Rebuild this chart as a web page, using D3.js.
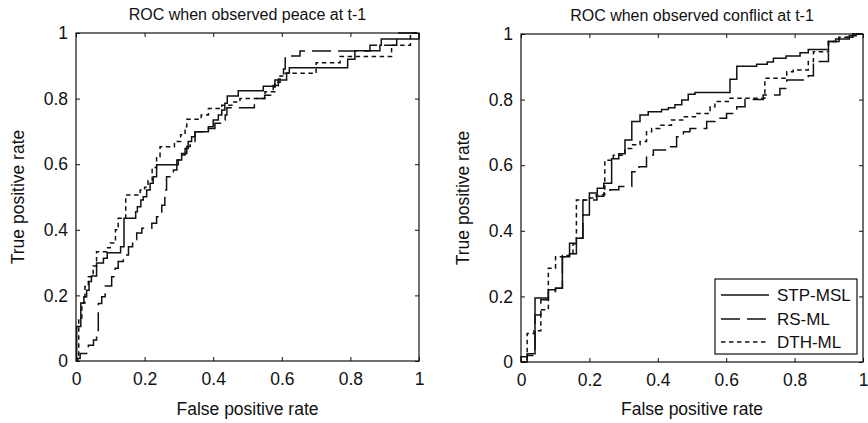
<!DOCTYPE html>
<html>
<head>
<meta charset="utf-8">
<script src="https://cdn.jsdelivr.net/npm/d3@7/dist/d3.min.js"></script>
<style>
  html, body { margin: 0; padding: 0; background: #fff; }
  svg text { font-family: "Liberation Sans", Arial, Helvetica, sans-serif; fill: #111; }
</style>
</head>
<body>
<svg id="chart" width="868" height="423"></svg>
<script>
// ---------- data ----------
const seriesNames = ["STP-MSL", "RS-ML", "DTH-ML"];
const panelTitles = ["ROC when observed peace at t-1", "ROC when observed conflict at t-1"];
const tickValues = [0, 0.2, 0.4, 0.6, 0.8, 1];
const tickLabels = ["0", "0.2", "0.4", "0.6", "0.8", "1"];
const xLabel = "False positive rate";
const yLabel = "True positive rate";

// [false positive rate, true positive rate] step points
const peaceSTP = [[0,0],[0.002,0.105],[0.014,0.177],[0.023,0.196],[0.031,0.216],[0.038,0.242],[0.045,0.259],[0.060,0.299],[0.080,0.313],[0.091,0.330],[0.130,0.348],[0.140,0.435],[0.174,0.455],[0.179,0.470],[0.189,0.491],[0.196,0.501],[0.206,0.521],[0.216,0.542],[0.225,0.562],[0.235,0.598],[0.298,0.613],[0.308,0.628],[0.318,0.648],[0.327,0.669],[0.337,0.684],[0.347,0.699],[0.386,0.714],[0.400,0.735],[0.415,0.750],[0.425,0.765],[0.434,0.786],[0.441,0.808],[0.473,0.824],[0.546,0.838],[0.580,0.857],[0.614,0.878],[0.622,0.894],[0.792,0.920],[0.813,0.946],[0.886,0.963],[0.890,0.982],[1,1]];
const peaceRS = [[0,0],[0.005,0.008],[0.012,0.023],[0.036,0.048],[0.051,0.064],[0.060,0.089],[0.065,0.175],[0.075,0.196],[0.085,0.229],[0.104,0.257],[0.114,0.283],[0.123,0.303],[0.138,0.323],[0.153,0.348],[0.165,0.370],[0.177,0.390],[0.192,0.405],[0.221,0.420],[0.235,0.440],[0.250,0.475],[0.259,0.521],[0.264,0.562],[0.284,0.582],[0.294,0.613],[0.308,0.633],[0.323,0.654],[0.333,0.669],[0.347,0.699],[0.386,0.709],[0.405,0.725],[0.425,0.735],[0.435,0.750],[0.440,0.772],[0.520,0.800],[0.550,0.810],[0.575,0.840],[0.590,0.860],[0.605,0.890],[0.610,0.930],[0.653,0.945],[0.857,0.963],[0.935,1.000],[1,1]];
const peaceDTH = [[0,0],[0.003,0.015],[0.008,0.125],[0.017,0.177],[0.026,0.227],[0.036,0.257],[0.050,0.290],[0.060,0.333],[0.089,0.345],[0.100,0.360],[0.115,0.400],[0.123,0.435],[0.145,0.506],[0.187,0.521],[0.200,0.530],[0.210,0.550],[0.222,0.590],[0.235,0.623],[0.245,0.653],[0.287,0.669],[0.305,0.690],[0.318,0.714],[0.323,0.737],[0.365,0.750],[0.386,0.770],[0.425,0.780],[0.460,0.790],[0.478,0.800],[0.551,0.821],[0.580,0.850],[0.595,0.869],[0.610,0.877],[0.700,0.909],[0.770,0.928],[0.920,0.963],[0.975,1.000],[1,1]];

const conflictSTP = [[0,0],[0,0.016],[0.018,0.025],[0.041,0.195],[0.080,0.220],[0.101,0.225],[0.121,0.321],[0.142,0.330],[0.162,0.377],[0.181,0.448],[0.200,0.515],[0.223,0.530],[0.242,0.545],[0.265,0.620],[0.286,0.635],[0.304,0.677],[0.324,0.733],[0.348,0.753],[0.372,0.763],[0.411,0.770],[0.431,0.775],[0.450,0.784],[0.470,0.799],[0.489,0.816],[0.509,0.822],[0.611,0.862],[0.631,0.902],[0.689,0.908],[0.720,0.915],[0.738,0.926],[0.775,0.933],[0.816,0.943],[0.840,0.953],[0.899,0.977],[0.920,0.985],[0.960,0.995],[0.980,1],[1,1]];
const conflictRS = [[0,0],[0.018,0.020],[0.041,0.143],[0.058,0.190],[0.080,0.215],[0.101,0.225],[0.121,0.321],[0.142,0.362],[0.162,0.377],[0.181,0.494],[0.222,0.505],[0.242,0.515],[0.260,0.525],[0.286,0.535],[0.324,0.580],[0.345,0.595],[0.367,0.631],[0.387,0.646],[0.426,0.656],[0.455,0.687],[0.475,0.702],[0.494,0.712],[0.543,0.733],[0.567,0.743],[0.601,0.758],[0.631,0.778],[0.655,0.800],[0.708,0.814],[0.757,0.834],[0.777,0.860],[0.840,0.873],[0.855,0.916],[0.899,0.977],[0.930,0.990],[0.970,1],[1,1]];
const conflictDTH = [[0,0],[0.018,0.087],[0.038,0.095],[0.058,0.159],[0.080,0.286],[0.101,0.321],[0.121,0.325],[0.142,0.330],[0.152,0.360],[0.162,0.494],[0.200,0.500],[0.220,0.510],[0.245,0.615],[0.270,0.630],[0.304,0.651],[0.324,0.662],[0.348,0.672],[0.367,0.702],[0.382,0.712],[0.406,0.722],[0.440,0.738],[0.475,0.748],[0.514,0.758],[0.553,0.778],[0.567,0.794],[0.611,0.804],[0.713,0.865],[0.777,0.885],[0.796,0.890],[0.840,0.916],[0.855,0.946],[0.899,0.977],[0.930,0.990],[0.970,1],[1,1]];

// ---------- layout / styles ----------
const dashes = { "STP-MSL": null, "RS-ML": "19,7", "DTH-ML": "4.5,3.5" };
const panels = [
  { title: panelTitles[0], left: 76, right: 419, top: 33, bottom: 361, series: [peaceSTP, peaceRS, peaceDTH], legend: false },
  { title: panelTitles[1], left: 521, right: 863, top: 34, bottom: 362, series: [conflictSTP, conflictRS, conflictDTH], legend: true }
];

const svg = d3.select("#chart");
svg.append("rect").attr("width", 868).attr("height", 423).attr("fill", "#fff");

panels.forEach(p => {
  const x = d3.scaleLinear().domain([0, 1]).range([p.left, p.right]);
  const y = d3.scaleLinear().domain([0, 1]).range([p.bottom, p.top]);
  const g = svg.append("g");
  const fmt = (d, i) => tickLabels[i];

  // curves
  const line = d3.line().x(d => x(d[0])).y(d => y(d[1])).curve(d3.curveStepAfter);
  p.series.forEach((s, i) => {
    g.append("path").datum(s).attr("d", line)
      .attr("fill", "none").attr("stroke", "#111").attr("stroke-width", 1.5)
      .attr("stroke-dasharray", dashes[seriesNames[i]]);
  });

  // axes (ticks inward, mirrored)
  const axStyle = a => {
    a.select(".domain").remove();
    a.selectAll(".tick line").attr("stroke", "#111").attr("stroke-width", 1);
    a.selectAll("text").style("font-size", "17.5px").attr("fill", "#111");
  };
  g.append("g").attr("transform", `translate(0,${p.bottom})`)
    .call(d3.axisBottom(x).tickValues(tickValues).tickFormat(fmt).tickSize(-4).tickPadding(12)).call(axStyle);
  g.append("g").attr("transform", `translate(${p.left},0)`)
    .call(d3.axisLeft(y).tickValues(tickValues).tickFormat(fmt).tickSize(-4).tickPadding(8)).call(axStyle);
  g.append("g").attr("transform", `translate(0,${p.top})`)
    .call(d3.axisTop(x).tickValues(tickValues).tickFormat("").tickSize(-4)).call(axStyle);
  g.append("g").attr("transform", `translate(${p.right},0)`)
    .call(d3.axisRight(y).tickValues(tickValues).tickFormat("").tickSize(-4)).call(axStyle);
  g.selectAll(".domain").remove();

  // frame
  g.append("rect").attr("x", p.left).attr("y", p.top)
    .attr("width", p.right - p.left).attr("height", p.bottom - p.top)
    .attr("fill", "none").attr("stroke", "#111").attr("stroke-width", 1.2);

  // titles and labels
  g.append("text").attr("x", (p.left + p.right) / 2).attr("y", p.top - 13)
    .attr("text-anchor", "middle").style("font-size", "16px").text(p.title);
  g.append("text").attr("x", (p.left + p.right) / 2).attr("y", 415)
    .attr("text-anchor", "middle").style("font-size", "17.5px").text(xLabel);
  g.append("text").attr("transform", `translate(${p.left - 52},${(p.top + p.bottom) / 2}) rotate(-90)`)
    .attr("text-anchor", "middle").style("font-size", "17.5px").text(yLabel);

  // legend
  if (p.legend) {
    const lg = g.append("g");
    lg.append("rect").attr("x", 715).attr("y", 279).attr("width", 142).attr("height", 75)
      .attr("fill", "#fff").attr("stroke", "#111").attr("stroke-width", 1.2);
    const rows = [295, 319, 342];
    seriesNames.forEach((name, i) => {
      lg.append("line").attr("x1", 721).attr("x2", 769).attr("y1", rows[i]).attr("y2", rows[i])
        .attr("stroke", "#111").attr("stroke-width", 1.5).attr("stroke-dasharray", dashes[name]);
      lg.append("text").attr("x", 777).attr("y", rows[i]).attr("dy", "0.35em")
        .style("font-size", "17px").text(name);
    });
  }
});
</script>
</body>
</html>
